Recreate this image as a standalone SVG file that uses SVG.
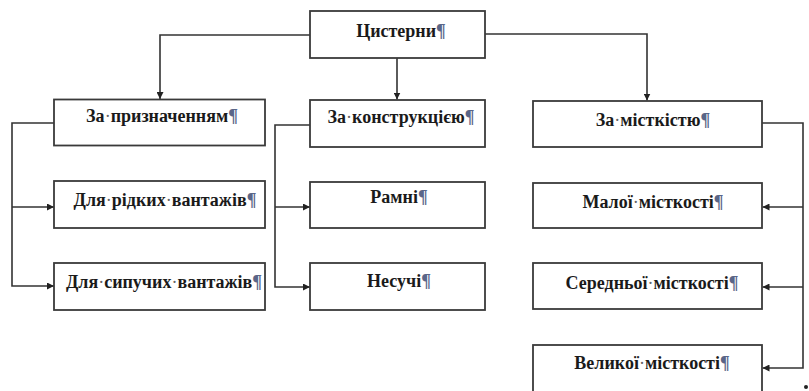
<svg xmlns="http://www.w3.org/2000/svg" width="809" height="391" viewBox="0 0 809 391">
<style>
.box{fill:#fff;stroke:#3a3a3a;stroke-width:1.8}
.lbl{font-family:"Liberation Serif","Times New Roman",serif;font-size:18px;font-weight:bold;fill:#1a1a1a;text-anchor:middle}
.pm{fill:#5a6688}
.dot{fill:#666;font-weight:normal}
.con{fill:none;stroke:#333;stroke-width:1.6}
</style>
<defs>
<marker id="ah" viewBox="0 0 10 10" refX="10" refY="5" markerWidth="7" markerHeight="7" markerUnits="userSpaceOnUse" orient="auto">
<path d="M0,0 L10,5 L0,10 z" fill="#222"/>
</marker>
</defs>
<rect width="809" height="391" fill="#fff"/>
<g id="connectors">
<path class="con" d="M310,35 H160 V99" marker-end="url(#ah)"/>
<path class="con" d="M397,58 V99.5" marker-end="url(#ah)"/>
<path class="con" d="M485,34 H647 V100.5" marker-end="url(#ah)"/>
<path class="con" d="M54,123 H12 V286 H54" marker-end="url(#ah)"/>
<path class="con" d="M12,207 H54" marker-end="url(#ah)"/>
<path class="con" d="M310,125 H275 V287 H310" marker-end="url(#ah)"/>
<path class="con" d="M275,207 H310" marker-end="url(#ah)"/>
<path class="con" d="M762,123 H803 V368 H762.5" marker-end="url(#ah)"/>
<path class="con" d="M803,207 H762.5" marker-end="url(#ah)"/>
<path class="con" d="M803,287 H762.5" marker-end="url(#ah)"/>
</g>
<g id="n-root"><rect class="box" x="310" y="11" width="175" height="47"/><text class="lbl" x="401" y="37">Цистерни<tspan class="pm">¶</tspan></text></g>
<g id="n-purpose"><rect class="box" x="54" y="99.5" width="211" height="46"/><text class="lbl" x="162" y="122">За<tspan class="dot">·</tspan>призначенням<tspan class="pm">¶</tspan></text></g>
<g id="n-construction"><rect class="box" x="310" y="100" width="175" height="47"/><text class="lbl" x="401" y="123">За<tspan class="dot">·</tspan>конструкцією<tspan class="pm">¶</tspan></text></g>
<g id="n-capacity"><rect class="box" x="533" y="101" width="229" height="46"/><text class="lbl" x="653" y="126">За<tspan class="dot">·</tspan>місткістю<tspan class="pm">¶</tspan></text></g>
<g id="n-liquid"><rect class="box" x="54" y="181" width="211" height="47"/><text class="lbl" x="165" y="206">Для<tspan class="dot">·</tspan>рідких<tspan class="dot">·</tspan>вантажів<tspan class="pm">¶</tspan></text></g>
<g id="n-bulk"><rect class="box" x="54" y="263" width="211" height="47"/><text class="lbl" x="164" y="288">Для<tspan class="dot">·</tspan>сипучих<tspan class="dot">·</tspan>вантажів<tspan class="pm">¶</tspan></text></g>
<g id="n-frame"><rect class="box" x="310" y="182" width="175" height="46"/><text class="lbl" x="399" y="203">Рамні<tspan class="pm">¶</tspan></text></g>
<g id="n-bearing"><rect class="box" x="310" y="263" width="175" height="47"/><text class="lbl" x="399" y="287">Несучі<tspan class="pm">¶</tspan></text></g>
<g id="n-small"><rect class="box" x="533" y="183" width="229" height="45"/><text class="lbl" x="653" y="208">Малої<tspan class="dot">·</tspan>місткості<tspan class="pm">¶</tspan></text></g>
<g id="n-medium"><rect class="box" x="533" y="263" width="229" height="46"/><text class="lbl" x="652" y="289">Середньої<tspan class="dot">·</tspan>місткості<tspan class="pm">¶</tspan></text></g>
<g id="n-large"><rect class="box" x="533" y="345" width="229" height="50"/><text class="lbl" x="652" y="369">Великої<tspan class="dot">·</tspan>місткості<tspan class="pm">¶</tspan></text></g>
<circle cx="806" cy="387" r="2" fill="#222"/>
</svg>
